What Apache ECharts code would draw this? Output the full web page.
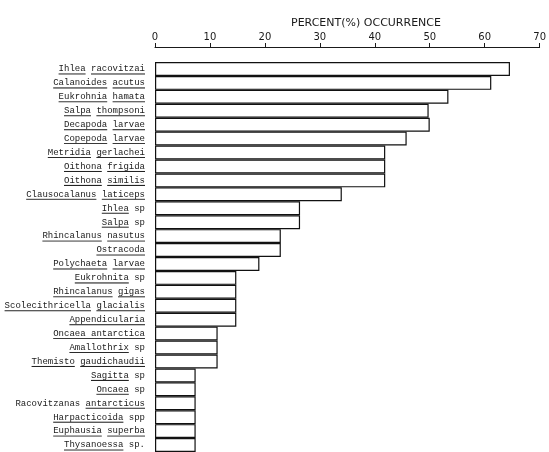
<!DOCTYPE html>
<html>
<head>
<meta charset="utf-8">
<script src="https://cdn.jsdelivr.net/npm/echarts@6/dist/echarts.min.js"></script>
<style>
  html, body { margin: 0; padding: 0; background: #fff; }
  #chart { width: 549px; height: 452px; }
</style>
</head>
<body>
<div id="chart"></div>
<script>
// Taxa, in order of occurrence
const taxa = [
  'Ihlea racovitzai', 'Calanoides acutus', 'Eukrohnia hamata', 'Salpa thompsoni',
  'Decapoda larvae', 'Copepoda larvae', 'Metridia gerlachei', 'Oithona frigida',
  'Oithona similis', 'Clausocalanus laticeps', 'Ihlea sp', 'Salpa sp',
  'Rhincalanus nasutus', 'Ostracoda', 'Polychaeta larvae', 'Eukrohnita sp',
  'Rhincalanus gigas', 'Scolecithricella glacialis', 'Appendicularia',
  'Oncaea antarctica', 'Amallothrix sp', 'Themisto gaudichaudii', 'Sagitta sp',
  'Oncaea sp', 'Racovitzanas antarcticus', 'Harpacticoida spp',
  'Euphausia superba', 'Thysanoessa sp.'
];

// Percent occurrence of each taxon
const occurrence = [
  64.6, 61.2, 53.4, 49.8,
  50.0, 45.8, 41.9, 41.9,
  41.9, 34.0, 26.4, 26.4,
  22.9, 22.9, 19.0, 14.8,
  14.8, 14.8, 14.8,
  11.4, 11.4, 11.4, 7.4,
  7.4, 7.4, 7.4,
  7.4, 7.4
];

// Percent axis ticks
const percentMin = 0;
const percentMax = 70;
const percentStep = 10;

// Words printed without underline
const plainWords = ['sp', 'spp', 'sp.', 'Racovitzanas'];
// Names underlined as one continuous phrase
const joinedNames = ['Oncaea antarctica'];

const labelFont = 'Liberation Mono';
const labelSize = 9;
const ink = '#1a1a1a';

// A thin strip image whose bottom row is dark: stretched behind a word it gives an underline
function underlineStrip(h) {
  const c = document.createElement('canvas');
  c.width = 1; c.height = h;
  const ctx = c.getContext('2d');
  ctx.fillStyle = '#222';
  ctx.fillRect(0, h - 1, 1, 1);
  return c;
}
const strip = underlineStrip(11);

function formatTaxon(name) {
  if (joinedNames.indexOf(name) >= 0) return '{u|' + name + '}';
  return name.split(' ').map(w => plainWords.indexOf(w) >= 0 ? '{n|' + w + '}' : '{u|' + w + '}').join('{n| }');
}

const chart = echarts.init(document.getElementById('chart'), null, { renderer: 'canvas' });

chart.setOption({
  animation: false,
  backgroundColor: '#fff',
  title: {
    text: 'PERCENT(%) OCCURRENCE',
    left: 286,
    top: 13,
    textStyle: { fontFamily: 'DejaVu Sans', fontSize: 11, fontWeight: 'normal', color: ink }
  },
  grid: { left: 155, right: 7, top: 62, bottom: 0, containLabel: false },
  xAxis: {
    type: 'value',
    position: 'top',
    offset: 15,
    min: percentMin,
    max: percentMax,
    interval: percentStep,
    axisLine: { show: true, lineStyle: { color: ink, width: 1 } },
    axisTick: { show: true, length: 4, lineStyle: { color: ink, width: 1 } },
    axisLabel: { margin: 5, fontFamily: 'DejaVu Sans', fontSize: 10, color: ink },
    splitLine: { show: false }
  },
  yAxis: {
    type: 'category',
    inverse: true,
    data: taxa,
    axisLine: { show: false },
    axisTick: { show: false },
    axisLabel: {
      margin: 10,
      fontFamily: labelFont,
      fontSize: labelSize,
      color: ink,
      formatter: formatTaxon,
      rich: {
        u: {
          fontFamily: labelFont, fontSize: labelSize, color: ink,
          height: 11, lineHeight: 11,
          backgroundColor: { image: strip }
        },
        n: {
          fontFamily: labelFont, fontSize: labelSize, color: ink,
          height: 11, lineHeight: 11
        }
      }
    }
  },
  series: [{
    type: 'bar',
    data: occurrence,
    barCategoryGap: '0%',
    itemStyle: { color: '#fff', borderColor: '#111', borderWidth: 1.2 },
    silent: true
  }]
});
</script>
</body>
</html>
